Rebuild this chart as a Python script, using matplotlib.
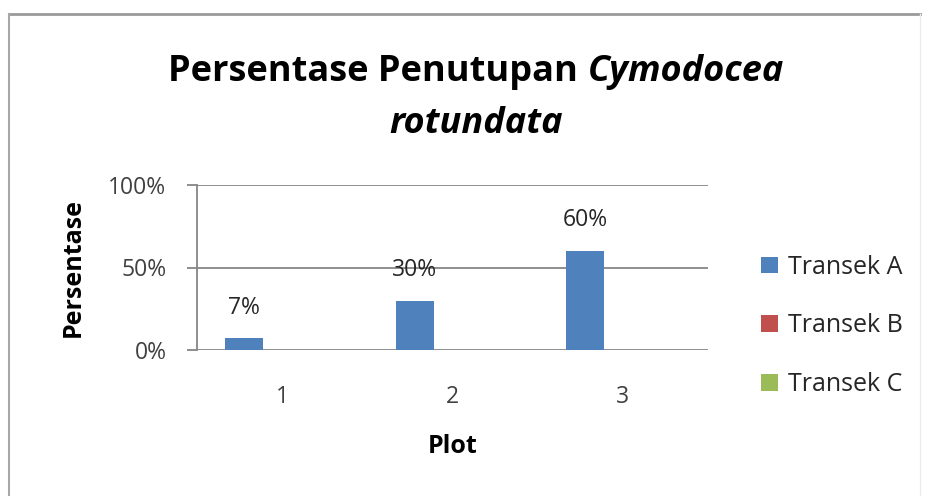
import matplotlib
matplotlib.use("Agg")
import matplotlib.pyplot as plt
import numpy as np
from matplotlib.lines import Line2D

plt.rcParams["font.family"] = ["Open Sans", "DejaVu Sans"]

# data
plots = ["1", "2", "3"]
series = ["Transek A", "Transek B", "Transek C"]
transek_a = [0.07, 0.30, 0.60]
transek_b = [0.0, 0.0, 0.0]
transek_c = [0.0, 0.0, 0.0]
colors = ["#4F81BD", "#C0504D", "#9BBB59"]
y_ticks = [0.0, 0.5, 1.0]
y_labels = ["0%", "50%", "100%"]

fig = plt.figure(figsize=(9.29, 4.96), dpi=100)
ax = fig.add_axes([197 / 929, 1 - 350 / 496, (708 - 197) / 929, (350 - 185) / 496])

x = np.arange(len(plots))
w = 1 / 4.5
handles = []
for i, (vals, col, name) in enumerate(zip([transek_a, transek_b, transek_c], colors, series)):
    bars = ax.bar(x + (i - 1) * w, vals, width=w, color=col, label=name, zorder=3)
    handles.append(bars)
    if i == 0:
        for xi, v in zip(x + (i - 1) * w, vals):
            ax.annotate(f"{round(v * 100)}%", (xi, v), xytext=(0, 22),
                        textcoords="offset points", ha="center", va="center",
                        fontsize=16.5, color="#262626")

ax.set_xlim(-0.5, len(plots) - 0.5)
ax.set_ylim(0, 1)
ax.set_yticks(y_ticks)
ax.set_yticklabels(y_labels)
ax.set_xticks(x)
ax.set_xticklabels(plots)
ax.yaxis.grid(True, color="#868686", linewidth=1.3, zorder=0)
for s in ["top", "right", "bottom"]:
    ax.spines[s].set_visible(False)
ax.spines["left"].set_color("#868686")
ax.spines["left"].set_linewidth(1.3)
ax.tick_params(axis="y", length=7, width=1.3, color="#868686", labelsize=16.5,
               labelcolor="#404040", pad=15)
ax.tick_params(axis="x", length=0, labelsize=16.5, labelcolor="#404040", pad=25)
ax.set_xlabel("Plot", fontsize=18, fontweight="bold", labelpad=18)
ax.set_ylabel("Persentase", fontsize=18, fontweight="bold", labelpad=16)

ax.legend(handles=handles, loc="center left", bbox_to_anchor=(739 / 929, 1 - 326 / 496),
          bbox_transform=fig.transFigure, frameon=False, fontsize=18,
          handlelength=0.65, handleheight=0.65, handletextpad=0.4, labelspacing=1.35,
          labelcolor="#262626")

# title, mixed upright / italic
fig.canvas.draw()
r = fig.canvas.get_renderer()
t1 = fig.text(0, 1 - 72 / 496, "Persentase Penutupan ", fontsize=26, fontweight="bold",
              va="center", ha="left")
t2 = fig.text(0, 1 - 72 / 496, "Cymodocea", fontsize=26, fontweight="bold",
              style="italic", va="center", ha="left")
w1 = t1.get_window_extent(r).width
w2 = t2.get_window_extent(r).width
cx = 476
start = cx - (w1 + w2) / 2
t1.set_x(start / 929)
t2.set_x((start + w1) / 929)
fig.text(cx / 929, 1 - 124 / 496, "rotundata", fontsize=26, fontweight="bold",
         style="italic", ha="center", va="center")

# chart border
fig.add_artist(Line2D([9 / 929, 920 / 929], [1 - 14 / 496] * 2, color="#9a9a9a", lw=2))
fig.add_artist(Line2D([9 / 929] * 2, [0, 1 - 14 / 496], color="#a8a8a8", lw=1.5))
fig.add_artist(Line2D([920 / 929] * 2, [0, 1 - 14 / 496], color="#ececec", lw=1))

fig.savefig("out.png", dpi=100)
